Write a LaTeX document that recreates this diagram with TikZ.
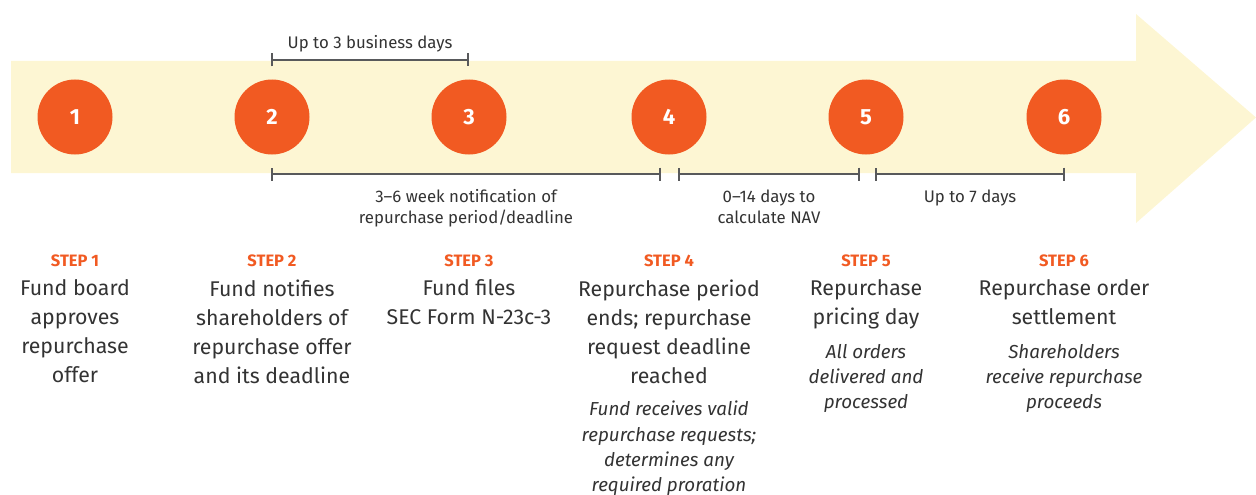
\documentclass[tikz,border=0pt]{standalone}
\usepackage{fontspec}
\setmainfont{Fira Sans}
\usetikzlibrary{positioning,arrows.meta}
\definecolor{stepor}{HTML}{F15A22}
\definecolor{band}{HTML}{FDF6D3}
\definecolor{ink}{HTML}{333333}
\definecolor{rulegray}{HTML}{58595B}
\tikzset{
  num/.style={circle,fill=stepor,minimum size=75pt,inner sep=0pt,text=white,font=\bfseries\fontsize{22}{22}\selectfont},
  steplbl/.style={text=stepor,inner sep=0pt,font=\bfseries\fontsize{16.5}{16.5}\selectfont},
  what/.style={text=ink,align=center,inner sep=0pt,anchor=north,font=\fontsize{21.3}{29}\selectfont},
  note/.style={text=ink,align=center,inner sep=0pt,anchor=north,font=\itshape\fontsize{18.8}{25.3}\selectfont},
  span/.style={draw=rulegray,line width=2pt,{Bar[width=13pt]}-{Bar[width=13pt]}},
  spanlbl/.style={text=ink,align=center,inner sep=0pt,font=\fontsize{16.8}{21}\selectfont}
}
\begin{document}
\begin{tikzpicture}[x=1pt,y=-1pt]
\useasboundingbox (0,0) rectangle (1256,495);
% big arrow behind the steps
\fill[band] (11,61) -- (1136,61) -- (1136,14) -- (1256,117.5) -- (1136,223) -- (1136,173) -- (11,173) -- cycle;

% numbered circles
\node[num] (c1) at (75,117) {1};
\node[num] (c2) at (272,117) {2};
\node[num] (c3) at (469,117) {3};
\node[num] (c4) at (669,117) {4};
\node[num] (c5) at (866,117) {5};
\node[num] (c6) at (1064,117) {6};

% time spans
\coordinate (t2) at (271,60);
\coordinate (t3) at (469,60);
\coordinate (b2) at (271,174);
\coordinate (b4l) at (661,174);
\coordinate (b4r) at (678,174);
\coordinate (b5l) at (860,174);
\coordinate (b5r) at (875,174);
\coordinate (b6) at (1065,174);
\draw[span] (t2) -- node[spanlbl,anchor=base,yshift=11pt] {Up to 3 business days} (t3);
\draw[span] (b2) -- node[spanlbl,below=14.5pt] {3--6 week notification of\\repurchase period/deadline} (b4l);
\draw[span] (b4r) -- node[spanlbl,below=14.5pt] {0--14 days to\\calculate NAV} (b5l);
\draw[span] (b5r) -- node[spanlbl,below=14.5pt] {Up to 7 days} (b6);

% step texts
\node[steplbl] (l1) at (75,261) {STEP 1};
\node[steplbl] (l2) at (272,261) {STEP 2};
\node[steplbl] (l3) at (469,261) {STEP 3};
\node[steplbl] (l4) at (669,261) {STEP 4};
\node[steplbl] (l5) at (866,261) {STEP 5};
\node[steplbl] (l6) at (1064,261) {STEP 6};
\node[what,below=12pt of l1] (m1) {Fund board\\approves\\repurchase\\offer};
\node[what,below=12pt of l2] (m2) {Fund notifies\\shareholders of\\repurchase offer\\and its deadline};
\node[what,below=12pt of l3] (m3) {Fund files\\SEC Form N-23c-3};
\node[what,below=12pt of l4] (m4) {Repurchase period\\ends; repurchase\\request deadline\\reached};
\node[what,below=12pt of l5] (m5) {Repurchase\\pricing day};
\node[what,below=12pt of l6] (m6) {Repurchase order\\settlement};
\node[note] (n4) at (669,401) {Fund receives valid\\repurchase requests;\\determines any\\required proration};
\node[note] (n5) at (866,344) {All orders\\delivered and\\processed};
\node[note] (n6) at (1064,344) {Shareholders\\receive repurchase\\proceeds};
\end{tikzpicture}
\end{document}
